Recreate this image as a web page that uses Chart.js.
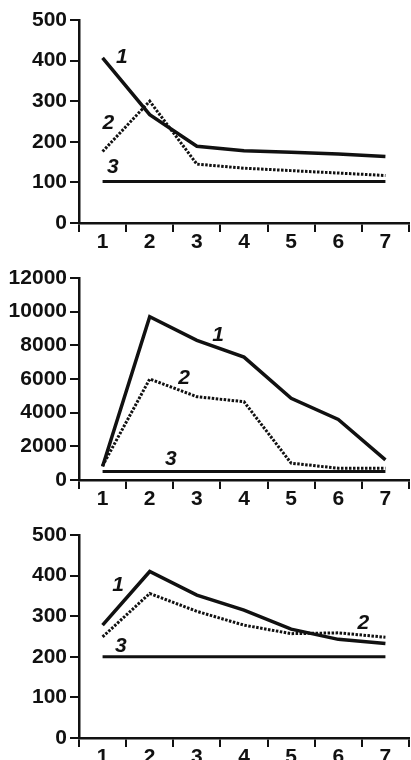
<!DOCTYPE html>
<html>
<head>
<meta charset="utf-8">
<script src="https://cdn.jsdelivr.net/npm/chart.js@4.4.0/dist/chart.umd.min.js"></script>
<style>
    html, body { margin: 0; padding: 0; background: #fff; overflow: hidden; }
    body { width: 411px; height: 760px; position: relative; }
    canvas { position: absolute; left: 0; }
</style>
</head>
<body>
<canvas id="top" width="411" height="253" style="top:0px"></canvas>
<canvas id="mid" width="411" height="257" style="top:253px"></canvas>
<canvas id="bottom" width="411" height="258" style="top:510px"></canvas>
<script>
// categories (x axis)
const categories = ['1', '2', '3', '4', '5', '6', '7'];

// panel 1
const topLine1 = [407, 267, 189, 178, 174, 170, 164];
const topLine2 = [176, 300, 145, 135, 129, 123, 117];
const topLine3 = [102, 102, 102, 102, 102, 102, 102];
const topMax = 500;
const topStep = 100;

// panel 2
const midLine1 = [800, 9700, 8300, 7300, 4850, 3600, 1200];
const midLine2 = [850, 6000, 4950, 4650, 1000, 700, 700];
const midLine3 = [500, 500, 500, 500, 500, 500, 500];
const midMax = 12000;
const midStep = 2000;

// panel 3
const botLine1 = [278, 410, 352, 315, 268, 243, 233];
const botLine2 = [249, 356, 312, 278, 257, 259, 248];
const botLine3 = [200, 200, 200, 200, 200, 200, 200];
const botMax = 500;
const botStep = 100;

// curve numbers: [text, category index (fractional), value]
const topNames = [['1', 0.41, 409], ['2', 0.12, 246], ['3', 0.22, 138]];
const midNames = [['1', 2.45, 8630], ['2', 1.73, 6070], ['3', 1.45, 1250]];
const botNames = [['1', 0.33, 377], ['2', 5.53, 283], ['3', 0.39, 227]];

const ink = '#111';
const font = 'Liberation Sans, Arial, sans-serif';

// draws the italic curve numbers next to the lines
const namesPlugin = {
    id: 'names',
    afterDatasetsDraw(chart, args, opts) {
        const ctx = chart.ctx;
        const xs = chart.scales.x, ys = chart.scales.y;
        ctx.save();
        ctx.fillStyle = ink;
        ctx.font = 'italic bold 21px ' + font;
        ctx.textAlign = 'center';
        ctx.textBaseline = 'middle';
        opts.items.forEach(n => {
            ctx.fillText(n[0], xs.getPixelForValue(n[1]), ys.getPixelForValue(n[2]));
        });
        ctx.restore();
    }
};

function makePanel(id, l1, l2, l3, max, step, names, padTop) {
    const ctx = document.getElementById(id).getContext('2d');
    return new Chart(ctx, {
        type: 'line',
        data: {
            labels: categories,
            datasets: [
                {data: l1, borderColor: ink, borderWidth: 3.5, pointRadius: 0, tension: 0},
                {data: l2, borderColor: ink, borderWidth: 3, borderDash: [2.5, 1.5], pointRadius: 0, tension: 0},
                {data: l3, borderColor: ink, borderWidth: 3, pointRadius: 0, tension: 0}
            ]
        },
        plugins: [namesPlugin],
        options: {
            responsive: false,
            animation: false,
            devicePixelRatio: 1,
            layout: {padding: {top: padTop, right: 2, left: 0, bottom: 0}},
            plugins: {
                legend: {display: false},
                tooltip: {enabled: false},
                names: {items: names}
            },
            scales: {
                x: {
                    offset: true,
                    grid: {display: true, drawOnChartArea: false, offset: true, color: ink, lineWidth: 2, tickLength: 9},
                    border: {display: true, color: ink, width: 2.5},
                    ticks: {color: ink, padding: -2, maxRotation: 0, font: {family: font, size: 21, weight: 'bold'}},
                    afterFit(scale) { scale.height = 30; }
                },
                y: {
                    min: 0,
                    max: max,
                    grid: {display: true, drawOnChartArea: false, color: ink, lineWidth: 2, tickLength: 9},
                    border: {display: true, color: ink, width: 2.5},
                    ticks: {
                        stepSize: step, color: ink, padding: 3,
                        font: {family: font, size: 21, weight: 'bold'},
                        callback: v => String(v)
                    },
                    afterFit(scale) { scale.width = 79; }
                }
            }
        }
    });
}

makePanel('top', topLine1, topLine2, topLine3, topMax, topStep, topNames, 20);
makePanel('mid', midLine1, midLine2, midLine3, midMax, midStep, midNames, 25);
makePanel('bottom', botLine1, botLine2, botLine3, botMax, botStep, botNames, 25);
</script>
</body>
</html>
